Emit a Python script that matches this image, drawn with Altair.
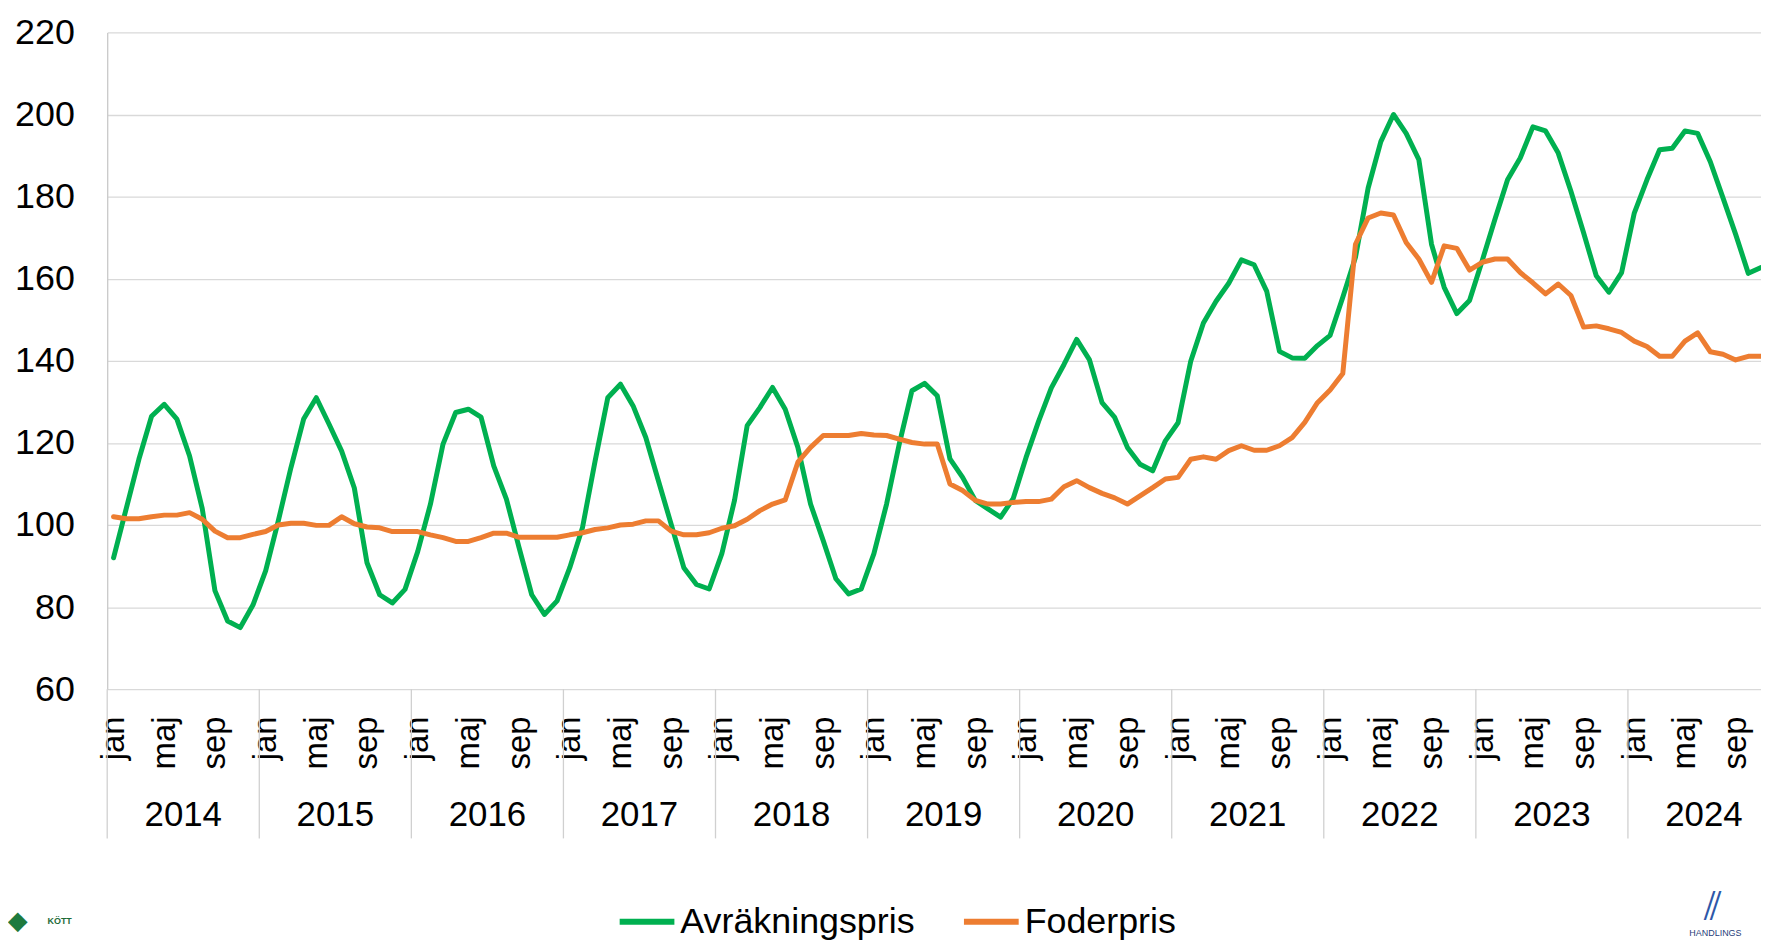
import altair as alt
import pandas as pd

# ---- data (monthly, jan 2014 .. nov 2024) ----
month_names = ["jan", "feb", "mar", "apr", "maj", "jun", "jul", "aug", "sep", "okt", "nov", "dec"]
years = [2014, 2015, 2016, 2017, 2018, 2019, 2020, 2021, 2022, 2023, 2024]
series_names = ["Avräkningspris", "Foderpris"]
series_colors = ["#00B050", "#ED7D31"]

avrakningspris = [
    92, 104, 116, 126.5, 129.4, 125.8, 116.8, 104, 84, 76.6, 75, 80.5,          # 2014
    88.8, 101, 114, 125.8, 131, 124.6, 118, 109, 90.8, 83, 81, 84.3,            # 2015
    93.5, 105, 119.7, 127.4, 128.2, 126.3, 114.4, 106.3, 94.5, 83, 78.2, 81.5,  # 2016
    89.6, 99.3, 115.6, 131, 134.3, 129, 121.3, 110.7, 100.2, 89.6, 85.5, 84.4,  # 2017
    93, 106, 124.2, 128.6, 133.5, 128.2, 118.9, 105.1, 96.2, 86.9, 83.2, 84.4,  # 2018
    93, 105.1, 119.7, 132.7, 134.5, 131.5, 116.1, 111.6, 106, 103.9, 101.9, 106.5,  # 2019
    116.4, 125.3, 133.4, 139.1, 145.2, 140.3, 129.8, 126.2, 118.9, 114.8, 113.2, 120.5,  # 2020
    124.9, 139.9, 149.2, 154.5, 158.9, 164.6, 163.4, 156.9, 142.3, 140.7, 140.6, 143.7,  # 2021
    146.2, 155.5, 165.2, 182.1, 193.4, 200, 195.4, 189, 168.4, 157.9, 151.5, 154.7,     # 2022
    164.4, 174.4, 184.1, 189.4, 197, 196, 190.6, 181.3, 171.2, 160.7, 156.7, 161.5,     # 2023
    176, 184.1, 191.4, 191.8, 196, 195.4, 188.5, 179.7, 170.8, 161.3, 162.7,            # 2024
]
foderpris = [
    102, 101.5, 101.5, 102, 102.4, 102.4, 103, 101.4, 98.5, 96.9, 96.9, 97.7,   # 2014
    98.4, 100, 100.4, 100.4, 99.9, 99.9, 102, 100.3, 99.5, 99.3, 98.4, 98.4,    # 2015
    98.4, 97.6, 96.9, 96, 96, 96.9, 98, 98, 97, 97, 97, 97,                     # 2016
    97.6, 98.1, 98.9, 99.3, 100, 100.2, 101, 101, 98.5, 97.6, 97.6, 98.1,       # 2017
    99.2, 99.8, 101.4, 103.5, 105.1, 106.1, 115.3, 118.9, 121.8, 121.8, 121.8, 122.3,  # 2018
    121.9, 121.8, 120.9, 120.1, 119.7, 119.7, 110, 108.4, 106, 105.1, 105.1, 105.5,    # 2019
    105.7, 105.7, 106.3, 109.3, 110.8, 109.1, 107.7, 106.6, 105.1, 107.1, 109.1, 111.2,  # 2020
    111.6, 116, 116.6, 116, 118.1, 119.3, 118.2, 118.2, 119.3, 121.3, 125, 129.8,        # 2021
    132.9, 136.9, 168.4, 174.8, 176, 175.5, 168.8, 164.8, 159.1, 168, 167.4, 162.1,      # 2022
    164, 164.8, 164.8, 161.5, 159, 156.3, 158.7, 155.9, 148.2, 148.5, 147.8, 146.9,      # 2023
    144.8, 143.5, 141.1, 141.1, 144.8, 146.8, 142.2, 141.6, 140.2, 141.1, 141.1,         # 2024
]
y_ticks = [60, 80, 100, 120, 140, 160, 180, 200, 220]

# ---- tables ----
rows = []
for name, vals in zip(series_names, [avrakningspris, foderpris]):
    for i, v in enumerate(vals):
        rows.append({"t": i + 0.5, "serie": name, "value": v})
df = pd.DataFrame(rows)

n_months = len(avrakningspris)
x_end = n_months - 0.5  # visible part ends at the centre of the last month
month_tick_vals = [i + 0.5 for i in range(n_months) if i % 12 in (0, 4, 8)]
df_years = pd.DataFrame({
    "start": [12 * k for k in range(len(years))],
    "mid": [12 * k + 6 for k in range(len(years))],
    "year": [str(y) for y in years],
})

FONT = "Liberation Sans"
PLOT_W = 1662
PLOT_H = 660

x_scale = alt.Scale(domain=[0, x_end], nice=False, zero=False)
y_scale = alt.Scale(domain=[60, 220], nice=False, zero=False)

lines = alt.Chart(df).mark_line(strokeWidth=5, strokeJoin="round", strokeCap="round").encode(
    x=alt.X("t:Q", scale=x_scale, axis=alt.Axis(
        values=month_tick_vals,
        labelExpr="['jan','feb','mar','apr','maj','jun','jul','aug','sep','okt','nov','dec'][floor(datum.value) % 12]",
        labelAngle=270, labelFontSize=33, labelFont=FONT, labelColor="#000000",
        labelPadding=27, ticks=False, domain=False, grid=False, title=None,
        labelOverlap=False, labelFlush=False,
    )),
    y=alt.Y("value:Q", scale=y_scale, axis=alt.Axis(
        values=y_ticks, labelFontSize=36, labelFont=FONT, labelColor="#000000",
        labelPadding=33, ticks=False, domain=True, domainColor="#C8C8C8", domainWidth=1.3,
        grid=True, gridColor="#D9D9D9", gridWidth=1.3, title=None,
    )),
    color=alt.Color("serie:N", scale=alt.Scale(domain=series_names, range=series_colors),
                    sort=series_names,
                    legend=alt.Legend(
                        title=None, orient="none", direction="horizontal",
                        legendX=512, legendY=863, padding=0,
                        symbolType="stroke", symbolSize=3025, symbolStrokeWidth=6,
                        labelFontSize=36, labelFont=FONT, labelColor="#000000",
                        labelOffset=3, columnPadding=37, symbolOffset=0, labelLimit=0,
                    )),
)

separators = alt.Chart(df_years).mark_rule(color="#D0D0D0", strokeWidth=1.3).encode(
    x=alt.X("start:Q", scale=x_scale),
    y=alt.value(PLOT_H),
    y2=alt.value(810),
)

year_labels = alt.Chart(df_years).mark_text(
    font=FONT, fontSize=35, color="#000000", baseline="alphabetic", align="center"
).encode(
    x=alt.X("mid:Q", scale=x_scale),
    y=alt.value(798),
    text="year:N",
)

logo_left = alt.Chart(pd.DataFrame({"txt": ["KÖTT"]})).mark_text(
    font=FONT, fontSize=9, color="#1E6B3A", align="left", baseline="middle", fontWeight="bold"
).encode(x=alt.value(-60), y=alt.value(893), text="txt:N")

logo_left_mark = alt.Chart(pd.DataFrame({"txt": ["◆"]})).mark_text(
    font="DejaVu Sans", fontSize=26, color="#1E7A3E", align="left", baseline="middle"
).encode(x=alt.value(-100), y=alt.value(893), text="txt:N")

logo_right = alt.Chart(pd.DataFrame({"txt": ["HANDLINGS"]})).mark_text(
    font=FONT, fontSize=9, color="#1F3E7A", align="left", baseline="middle"
).encode(x=alt.value(1590), y=alt.value(905), text="txt:N")

logo_right_mark = alt.Chart(pd.DataFrame({"txt": ["⫽"]})).mark_text(
    font="DejaVu Sans", fontSize=40, color="#2E57A8", align="left", baseline="middle"
).encode(x=alt.value(1605), y=alt.value(880), text="txt:N")

chart = alt.layer(
    separators, lines, year_labels, logo_left_mark, logo_left, logo_right_mark, logo_right
).properties(
    width=PLOT_W, height=PLOT_H,
    autosize=alt.AutoSizeParams(type="none"),
    padding={"left": 99.7, "top": 22.2, "right": 0, "bottom": 262},
    background="white",
).configure_view(stroke=None)

chart.save("out.html", embed_options={"renderer": "svg", "actions": False})
